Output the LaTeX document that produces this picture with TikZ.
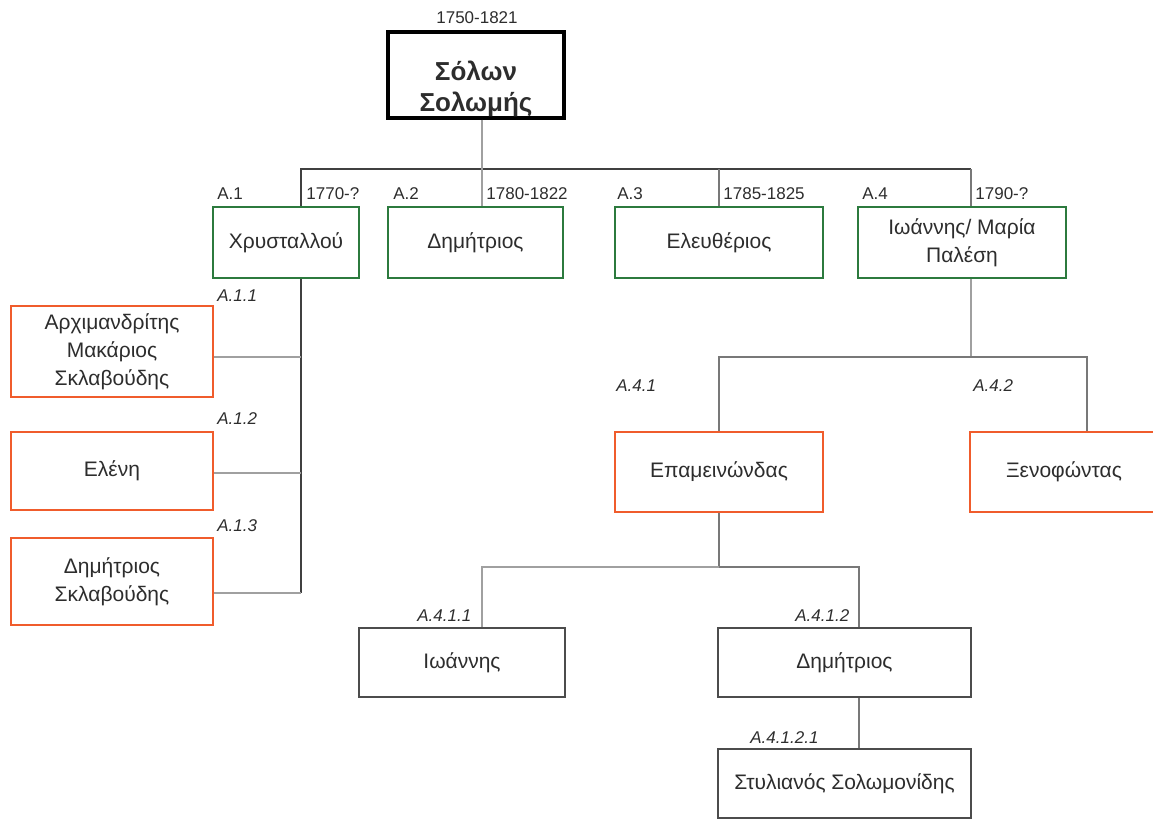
\documentclass[tikz,border=0pt]{standalone}
\usepackage{fontspec}
\setmainfont{Liberation Sans}
\usetikzlibrary{positioning}

\definecolor{kingreen}{RGB}{44,122,62}
\definecolor{kinorange}{RGB}{240,92,44}
\definecolor{inkgray}{RGB}{45,45,45}
\definecolor{linegray}{RGB}{120,120,120}
\definecolor{lightgray}{RGB}{160,160,160}

\tikzset{
  person/.style={draw, align=center, inner sep=0pt, text=inkgray,
    font=\fontsize{10.5}{14}\selectfont},
  rootbox/.style={draw=black, line width=1.6pt, inner sep=0pt},
  rootname/.style={align=center, inner sep=0pt, text=inkgray,
    font=\fontsize{13}{15.5}\selectfont\bfseries},
  sonbox/.style={person, draw=kingreen, line width=1.4pt, minimum height=35.5pt},
  grandbox/.style={person, draw=kinorange, line width=1.4pt, minimum width=101pt},
  greatbox/.style={person, draw=black!70, line width=0.8pt, minimum height=34.5pt},
  yearlabel/.style={inner sep=0pt, text=inkgray, font=\fontsize{8.5}{10}\selectfont},
  codelabel/.style={yearlabel, anchor=base west, font=\fontsize{8.5}{10}\selectfont\itshape},
  mainline/.style={draw=black!75, line width=1.1pt},
  thinline/.style={draw=lightgray, line width=0.6pt},
  midline/.style={draw=linegray, line width=0.75pt}
}

\begin{document}
\begin{tikzpicture}[x=0.5pt, y=-0.5pt]
  \useasboundingbox (0,0) rectangle (1153,819);
  \clip (0,0) rectangle (1153,819);

  % root
  \node[rootbox, minimum width=88pt, minimum height=43pt] (solon) at (476,75) {};
  \node[rootname] (solonname) at (476,89) {Σόλων\\Σολωμής};
  \node[yearlabel, anchor=base] (solonyear) at (477,24) {1750-1821};

  % first generation
  \node[sonbox, minimum width=73pt] (chrys) at (286,242.5) {Χρυσταλλού};
  \node[sonbox, minimum width=87.5pt] (dimA) at (475.5,242.5) {Δημήτριος};
  \node[sonbox, minimum width=104pt] (eleft) at (719,242.5) {Ελευθέριος};
  \node[sonbox, minimum width=104pt] (ioan) at (962,242.5) {Ιωάννης/ Μαρία\\Παλέση};

  \node[yearlabel, anchor=base west] (codeA1) at (217,199) {A.1};
  \node[yearlabel, anchor=base west] (yearA1) at (306,199) {1770-?};
  \node[yearlabel, anchor=base west] (codeA2) at (393,199) {A.2};
  \node[yearlabel, anchor=base west] (yearA2) at (486,199) {1780-1822};
  \node[yearlabel, anchor=base west] (codeA3) at (617,199) {A.3};
  \node[yearlabel, anchor=base west] (yearA3) at (723,199) {1785-1825};
  \node[yearlabel, anchor=base west] (codeA4) at (862,199) {A.4};
  \node[yearlabel, anchor=base west] (yearA4) at (975,199) {1790-?};

  % children of Chrystallou
  \node[grandbox, minimum height=45.5pt] (archim) at (112,351.5) {Αρχιμανδρίτης\\Μακάριος\\Σκλαβούδης};
  \node[grandbox, minimum height=39pt] (eleni) at (112,471) {Ελένη};
  \node[grandbox, minimum height=43.5pt] (dimSkl) at (112,581.5) {Δημήτριος\\Σκλαβούδης};

  \node[codelabel] (codeA11) at (217,301) {A.1.1};
  \node[codelabel] (codeA12) at (217,424) {A.1.2};
  \node[codelabel] (codeA13) at (217,531) {A.1.3};

  % children of Ioannis
  \node[grandbox, minimum width=104pt, minimum height=40pt] (epam) at (719,472) {Επαμεινώνδας};
  \node[grandbox, minimum width=94pt, minimum height=40pt] (xenof) at (1064,472) {Ξενοφώντας};

  \node[codelabel] (codeA41) at (616,391) {A.4.1};
  \node[codelabel] (codeA42) at (973,391) {A.4.2};

  % children of Epameinondas
  \node[greatbox, minimum width=103pt] (ioanB) at (462,662.5) {Ιωάννης};
  \node[greatbox, minimum width=126.5pt] (dimB) at (844.5,662.5) {Δημήτριος};
  \node[greatbox, minimum width=126.5pt] (styl) at (844.5,783.5) {Στυλιανός Σολωμονίδης};

  \node[codelabel] (codeA411) at (417,621) {A.4.1.1};
  \node[codelabel] (codeA412) at (795,621) {A.4.1.2};
  \node[codelabel] (codeA4121) at (750,743) {A.4.1.2.1};

  % connectors, first generation
  \coordinate (t1) at (301,169);
  \coordinate (t2) at (482,169);
  \coordinate (t3) at (719,169);
  \coordinate (t4) at (971,169);
  \draw[mainline] (t1 |- chrys.north) -- (t1) -- (t4);
  \draw[thinline] (t2 |- solon.south) -- (t2 |- dimA.north);
  \draw[midline] (t3) -- (t3 |- eleft.north);
  \draw[midline] (t4) -- (t4 |- ioan.north);

  % connectors, Chrystallou
  \coordinate (k1) at (301,357);
  \coordinate (k2) at (301,473);
  \coordinate (k3) at (301,593);
  \draw[mainline] (t1 |- chrys.south) -- (k3);
  \draw[thinline] (k1) -- (k1 -| archim.east);
  \draw[thinline] (k2) -- (k2 -| eleni.east);
  \draw[thinline] (k3) -- (k3 -| dimSkl.east);

  % connectors, Ioannis
  \coordinate (m0) at (971,357);
  \coordinate (m1) at (719,357);
  \coordinate (m2) at (1087,357);
  \draw[thinline] (m0 |- ioan.south) -- (m0);
  \draw[midline] (m1 |- epam.north) -- (m1) -- (m2) -- (m2 |- xenof.north);

  % connectors, Epameinondas
  \coordinate (n0) at (719,567);
  \coordinate (n1) at (482,567);
  \coordinate (n2) at (859,567);
  \draw[midline] (epam.south) -- (n0);
  \draw[thinline] (n1 |- ioanB.north) -- (n1) -- (n0);
  \draw[midline] (n0) -- (n2) -- (n2 |- dimB.north);
  \draw[midline] (n2 |- dimB.south) -- (n2 |- styl.north);
\end{tikzpicture}
\end{document}
